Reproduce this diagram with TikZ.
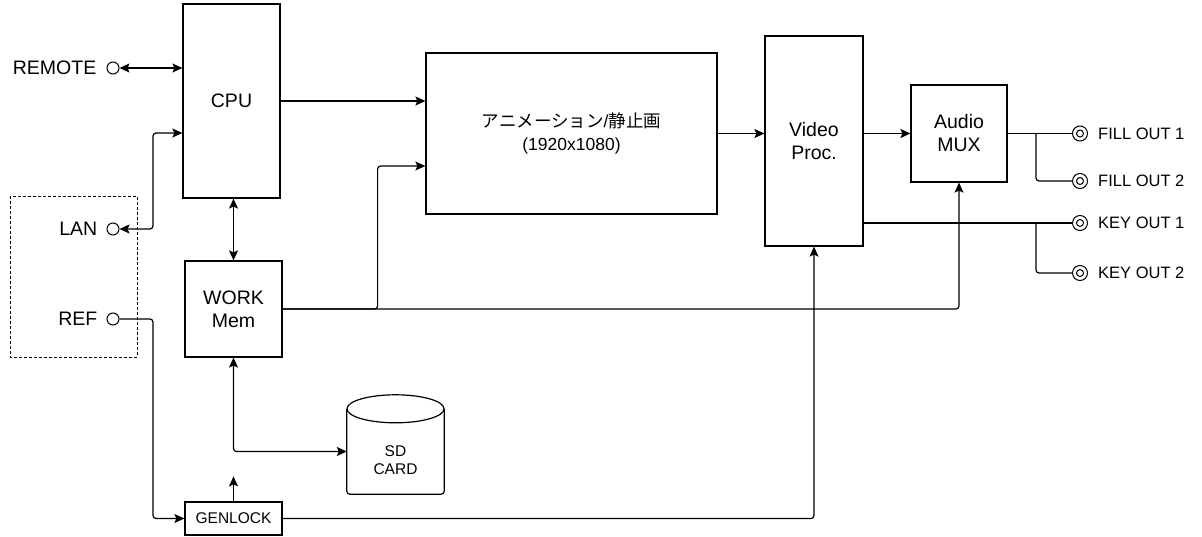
\documentclass[tikz,border=0pt]{standalone}
\usepackage{fontspec}
\setmainfont{Liberation Sans}
\newfontfamily\jpfont{Noto Sans CJK JP}
\usetikzlibrary{positioning,arrows.meta}
\tikzset{
  bloco/.style={draw, line width=1.2pt, inner sep=0pt, align=center, font=\fontsize{19.5pt}{23pt}\selectfont},
  rotulo/.style={inner sep=0pt, font=\fontsize{19.5pt}{23pt}\selectfont},
  saida/.style={inner sep=0pt, font=\fontsize{16.5pt}{20pt}\selectfont},
  porta/.style={draw, circle, line width=1pt, inner sep=0pt, minimum size=12pt},
  coaxial/.style={draw, circle, line width=1pt, inner sep=0pt, minimum size=15pt,
    path picture={\draw[line width=1pt] (path picture bounding box.center) circle[radius=3.5pt];}},
  fio/.style={line width=1.2pt, rounded corners=3pt},
}

\begin{document}
\begin{tikzpicture}[x=1pt, y=-1pt, >={Stealth[length=10pt,width=9pt,inset=2pt]}]
  \useasboundingbox (0,0) rectangle (1202,537);
  % blocos principais
  \node[bloco, minimum width=97pt, minimum height=194pt] (cpu) at (231.5,101) {CPU};
  \node[bloco, minimum width=97pt, minimum height=96pt] (work) at (233.5,309) {WORK\\Mem};
  \node[bloco, minimum width=291pt, minimum height=161pt, font=\fontsize{17.5pt}{23pt}\selectfont]
      (anim) at (571.5,133.5) {{\jpfont アニメーション}/{\jpfont 静止画}\\(1920x1080)};
  \node[bloco, minimum width=98pt, minimum height=210pt] (video) at (814,141) {Video\\Proc.};
  \node[bloco, minimum width=96pt, minimum height=97pt] (audio) at (959,133.5) {Audio\\MUX};
  \node[bloco, minimum width=97pt, minimum height=33pt, font=\fontsize{15.5pt}{18pt}\selectfont]
      (genlock) at (233.5,518.5) {GENLOCK};
  % cartao SD (cilindro)
  \node[minimum width=97pt, minimum height=85pt, inner sep=0pt] (sd) at (395.5,451.5) {};
  \draw[line width=1.2pt, rounded corners=3pt] (sd.north west) -- (sd.south west)
      -- (sd.south east) -- (sd.north east);
  \draw[line width=1.2pt] (sd.north) ellipse[x radius=48.5pt, y radius=14pt];
  \node[align=center, inner sep=0pt, font=\fontsize{15.5pt}{18pt}\selectfont]
      (sdtxt) at ([yshift=-9pt]sd.center) {SD\\CARD};
  % entradas
  \draw[line width=0.8pt, dash pattern=on 3pt off 2pt] (10,196) rectangle (137,357);
  \node[porta] (remote) at (113,68) {};
  \node[porta] (lan) at (113,229) {};
  \node[porta] (ref) at (113,319) {};
  \node[rotulo, left=10pt of remote] (tremote) {REMOTE};
  \node[rotulo, left=9pt of lan] (tlan) {LAN};
  \node[rotulo, left=9pt of ref] (tref) {REF};
  % saidas
  \node[coaxial] (fo1) at (1080,133.5) {};
  \node[coaxial] (fo2) at (1080,181) {};
  \node[coaxial] (ko1) at (1080,223) {};
  \node[coaxial] (ko2) at (1080,273) {};
  \node[saida, right=10pt of fo1] (tfo1) {FILL OUT 1};
  \node[saida, right=10pt of fo2] (tfo2) {FILL OUT 2};
  \node[saida, right=10pt of ko1] (tko1) {KEY OUT 1};
  \node[saida, right=10pt of ko2] (tko2) {KEY OUT 2};
  % ligacoes
  \draw[fio, <->] (remote) -- (remote -| cpu.west);
  \draw[fio, <->] (lan) -- ++(40,0) |- ([yshift=-32pt]cpu.west);
  \draw[fio, <->] (work.north |- cpu.south) -- (work.north);
  \draw[fio, ->] (cpu.east) -- (cpu.east -| anim.west);
  \draw[fio, ->] (work.east) -- ++(95,0) |- ([yshift=-32.5pt]anim.west);
  \draw[fio, ->] (work.east) -| (audio.south);
  \draw[fio, <->] (work.south) |- (sd.west);
  \draw[fio, ->] (anim.east) -- (anim.east -| video.west);
  \draw[fio, ->] (video.east |- audio.west) -- (audio.west);
  \draw[fio, ->] (genlock.north) -- ++(0,-25);
  \draw[fio, ->] (ref) -- ++(40,0) |- (genlock.west);
  \draw[fio, ->] (genlock.east) -| (video.south);
  \coordinate (ramo) at (1036,0);
  \draw[fio] (audio.east |- fo1) -- (fo1);
  \draw[fio] (ramo |- fo1) |- (fo2);
  \draw[fio] (video.east |- ko1) -- (ko1);
  \draw[fio] (ramo |- ko1) |- (ko2);
\end{tikzpicture}
\end{document}
